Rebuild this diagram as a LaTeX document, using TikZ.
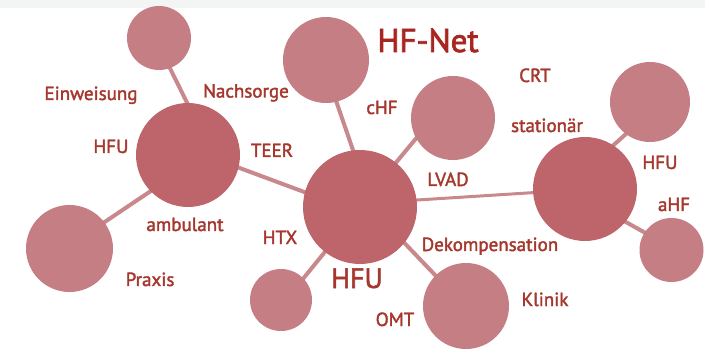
\documentclass[tikz,border=0pt]{standalone}
\usepackage{fontspec}
\setmainfont{PT Sans}
\newfontface\lblfont{PT Sans}[RawFeature={embolden=1.9}]
\newfontface\titlefont{PT Sans}[RawFeature={embolden=2.3}]
\usetikzlibrary{backgrounds}
\definecolor{cdark}{RGB}{190,101,108}
\definecolor{clight}{RGB}{197,126,131}
\definecolor{cline}{RGB}{200,136,140}
\definecolor{ctext}{RGB}{165,55,45}
\definecolor{ctitle}{RGB}{168,38,34}
\definecolor{band}{RGB}{243,245,245}
\tikzset{
  bub/.style={circle, inner sep=0pt, minimum size=#1, draw=none},
  bigbub/.style={bub=#1, fill=cdark},
  smallbub/.style={bub=#1, fill=clight},
  link/.style={draw=cline, line width=4pt, shorten <=-3pt, shorten >=-3pt},
  lbl/.style={text=ctext, font=\lblfont\fontsize{19}{22}\selectfont, anchor=base, inner sep=0pt},
  mainlbl/.style={text=ctext, font=\lblfont\fontsize{28}{32}\selectfont, anchor=base, inner sep=0pt},
  titlelbl/.style={text=ctitle, font=\titlefont\fontsize{33}{38}\selectfont, anchor=base, inner sep=0pt}
}
\begin{document}
\begin{tikzpicture}[x=1pt, y=-1pt]
\useasboundingbox (0,0) rectangle (705,350);
\fill[band] (0,0) rectangle (705,8);
% bubbles
\node[smallbub=64pt]  (tl)     at (159,38)    {};
\node[bigbub=104pt]   (amb)    at (188,155)   {};
\node[smallbub=87pt]  (praxis) at (69.5,248.5) {};
\node[smallbub=86pt]  (nach)   at (326,60)    {};
\node[bigbub=114pt]   (cen)    at (360,207)   {};
\node[smallbub=84pt]  (lvad)   at (453,118)   {};
\node[bigbub=104pt]   (rb)     at (585,189)   {};
\node[smallbub=80pt]  (tr)     at (650,102)   {};
\node[smallbub=64pt]  (ahf)    at (671.5,250) {};
\node[smallbub=86pt]  (klinik) at (466,306)   {};
\node[smallbub=62pt]  (htx)    at (281,300)   {};
% connectors
\begin{pgfonlayer}{background}
\draw[link] (tl.-70) -- (amb.91);
\draw[link] (amb.224) -- (praxis.37);
\draw[link] (amb.-14) -- (cen.165);
\draw[link] (nach.-76) -- (cen.97);
\draw[link] (lvad.209) -- (cen.51);
\draw[link, line width=3pt] (cen.7) -- (rb.184);
\draw[link] (rb.57) -- (tr.233);
\draw[link] (rb.-39) -- (ahf.147);
\draw[link] (cen.-39) -- (klinik.135);
\draw[link] (cen.-128) -- (htx.44);
\end{pgfonlayer}
% labels
\node[titlelbl] (t0)  at (428,52)  {HF-Net};
\node[lbl] (t1)  at (91,100)  {Einweisung};
\node[lbl] (t2)  at (246,97.5) {Nachsorge};
\node[lbl] (t3)  at (111,153) {HFU};
\node[lbl] (t4)  at (272,157) {TEER};
\node[lbl] (t5)  at (535,82)  {CRT};
\node[lbl] (t6)  at (382,114) {cHF};
\node[lbl] (t7)  at (547,132) {stationär};
\node[lbl] (t8)  at (660,169) {HFU};
\node[lbl] (t9)  at (448,186) {LVAD};
\node[lbl] (t10) at (185,231) {ambulant};
\node[lbl] (t11) at (280,244) {HTX};
\node[lbl] (t12) at (150,286) {Praxis};
\node[mainlbl] (t13) at (357,288) {HFU};
\node[lbl] (t14) at (490,251) {Dekompensation};
\node[lbl] (t15) at (674,211) {aHF};
\node[lbl] (t16) at (545,306) {Klinik};
\node[lbl] (t17) at (395,326) {OMT};
\end{tikzpicture}
\end{document}
